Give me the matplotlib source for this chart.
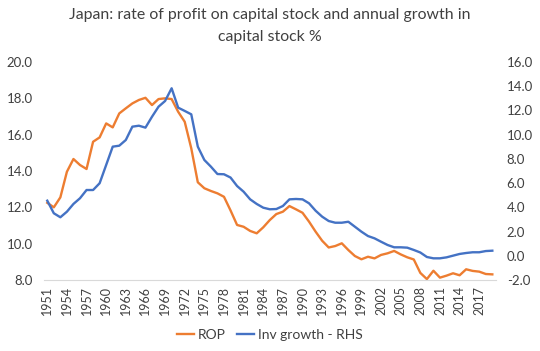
import matplotlib
matplotlib.use("Agg")
import matplotlib.pyplot as plt
import numpy as np

plt.rcParams['font.family'] = ['Lato', 'DejaVu Sans']

years = list(range(1951, 2020))

rop = [12.25, 12.0, 12.55, 13.96, 14.66, 14.33, 14.11, 15.61, 15.85, 16.62,
       16.40, 17.17, 17.45, 17.72, 17.91, 18.03, 17.63, 17.96, 18.0, 17.96,
       17.26, 16.71, 15.25, 13.38, 13.05, 12.90, 12.77, 12.58, 11.83, 11.03,
       10.93, 10.70, 10.57, 10.90, 11.30, 11.63, 11.76, 12.07, 11.89, 11.70,
       11.21, 10.66, 10.16, 9.79, 9.87, 10.02, 9.65, 9.32, 9.14, 9.28,
       9.19, 9.38, 9.47, 9.60, 9.41, 9.25, 9.13, 8.39, 8.05, 8.51,
       8.13, 8.24, 8.37, 8.26, 8.59, 8.50, 8.46, 8.33, 8.31]

inv_growth = [4.55, 3.51, 3.18, 3.64, 4.28, 4.75, 5.43, 5.43, 5.99, 7.50,
              9.01, 9.09, 9.56, 10.66, 10.74, 10.58, 11.48, 12.31, 12.78, 13.83,
              12.23, 11.96, 11.68, 9.01, 7.91, 7.36, 6.75, 6.73, 6.46, 5.76,
              5.29, 4.66, 4.28, 3.97, 3.84, 3.86, 4.11, 4.66, 4.69, 4.66,
              4.33, 3.72, 3.23, 2.87, 2.73, 2.73, 2.81, 2.40, 1.99, 1.63,
              1.44, 1.16, 0.89, 0.70, 0.70, 0.67, 0.48, 0.27, -0.10, -0.21,
              -0.21, -0.13, 0.01, 0.15, 0.23, 0.29, 0.29, 0.39, 0.42]

left_ticks = [8.0, 10.0, 12.0, 14.0, 16.0, 18.0, 20.0]
right_ticks = [-2.0, 0.0, 2.0, 4.0, 6.0, 8.0, 10.0, 12.0, 14.0, 16.0]

orange = '#ED7D31'
blue = '#4472C4'
txt = '#404040'

fig = plt.figure(figsize=(5.4, 3.51), dpi=100)
ax = fig.add_axes([44/540, 71/351, (495.6-44)/540, 218/351])
ax2 = ax.twinx()

x = np.arange(len(years))
l1, = ax.plot(x, rop, color=orange, lw=1.7, label='ROP')
l2, = ax2.plot(x, inv_growth, color=blue, lw=1.7, label='Inv growth - RHS')

ax.set_xlim(-0.5, len(years) - 0.5)
ax.set_ylim(8, 20)
ax2.set_ylim(-2, 16)
ax.set_yticks(left_ticks)
ax.set_yticklabels([f'{v:.1f}' for v in left_ticks])
ax2.set_yticks(right_ticks)
ax2.set_yticklabels([f'{v:.1f}' for v in right_ticks])

xt = x[::3]
ax.set_xticks(xt)
ax.set_xticklabels([str(years[i]) for i in xt], rotation=90)

for a in (ax, ax2):
    for s in ('top', 'left', 'right', 'bottom'):
        a.spines[s].set_visible(False)
    a.tick_params(length=0, labelsize=9.5, colors=txt)
ax.tick_params(axis='x', labelsize=9, pad=4)
ax.spines['bottom'].set_visible(True)
ax.spines['bottom'].set_color('#D9D9D9')
ax.spines['bottom'].set_linewidth(0.8)
ax.tick_params(axis='y', pad=8)
ax2.tick_params(axis='y', pad=8)

fig.text(0.5, 1 - 15/351, 'Japan: rate of profit on capital stock and annual growth in',
         ha='center', va='center', fontsize=11.4, color=txt)
fig.text(0.5, 1 - 37/351, 'capital stock %', ha='center', va='center',
         fontsize=11.4, color=txt)

fig.legend(handles=[l1, l2], loc='center', bbox_to_anchor=(0.5, 1 - 335/351),
           ncol=2, frameon=False, fontsize=10, handlelength=1.2,
           handletextpad=0.3, columnspacing=0.8, labelcolor=txt)

fig.savefig('out.png', dpi=100)
